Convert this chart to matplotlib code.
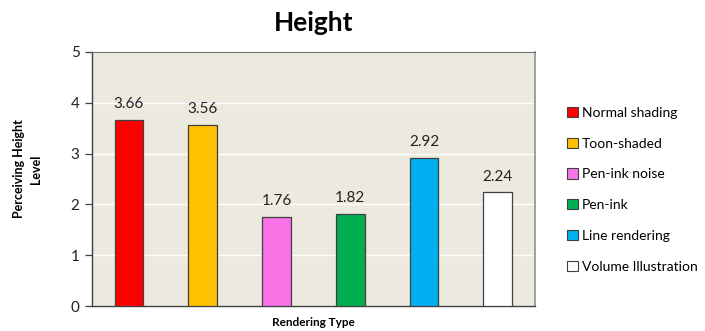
import matplotlib
matplotlib.use("Agg")
import matplotlib.pyplot as plt
from matplotlib.patches import Patch

plt.rcParams['font.family'] = ['Lato', 'DejaVu Sans']

categories = ["Normal shading", "Toon-shaded", "Pen-ink noise", "Pen-ink",
              "Line rendering", "Volume Illustration"]
values = [3.66, 3.56, 1.76, 1.82, 2.92, 2.24]
colors = ["#FF0000", "#FFC000", "#F973E6", "#00B050", "#00B0F0", "#FFFFFF"]
yticks = [0, 1, 2, 3, 4, 5]

fig = plt.figure(figsize=(7.05, 3.31), dpi=100)
ax = fig.add_axes([0.1305, 0.0755, 0.628, 0.7675])
ax.set_facecolor("#ECE9DF")

x = list(range(len(categories)))
bars = ax.bar(x, values, width=0.39, color=colors, edgecolor="#404040",
              linewidth=0.9, zorder=3)
for xi, v in zip(x, values):
    ax.text(xi, v + 0.17, f"{v:.2f}", ha="center", va="bottom",
            fontsize=11, color="#222222")

ax.set_xlim(-0.5, len(categories) - 0.5)
ax.set_ylim(0, 5)
ax.set_yticks(yticks)
ax.set_xticks([])
ax.tick_params(axis="y", length=5, width=0.9, color="#404040",
               labelsize=11, labelcolor="#222222", pad=4)
ax.grid(axis="y", color="white", linewidth=1.0, zorder=0)

for side in ["left", "bottom"]:
    ax.spines[side].set_color("#404040")
    ax.spines[side].set_linewidth(1.0)
ax.spines["top"].set_color("#707070")
ax.spines["right"].set_color("#909090")
ax.spines["right"].set_linewidth(1.2)

ax.set_title("Height", fontsize=19, fontweight="bold", pad=15)
ax.set_xlabel("Rendering Type", fontsize=8.5, fontweight="bold", labelpad=8)
ax.set_ylabel("Perceiving Height\nLevel", fontsize=9, fontweight="bold",
              linespacing=1.5)
ax.yaxis.set_label_coords(-0.112, 0.54)

handles = [Patch(facecolor=c, edgecolor="#404040", linewidth=0.8)
           for c in colors]
fig.legend(handles, categories, loc="center left",
           bbox_to_anchor=(0.789, 0.427), frameon=False, fontsize=10,
           handlelength=0.75, handleheight=0.75, handletextpad=0.3,
           labelspacing=1.35, borderpad=0.3)

fig.savefig("out.png", dpi=100)
